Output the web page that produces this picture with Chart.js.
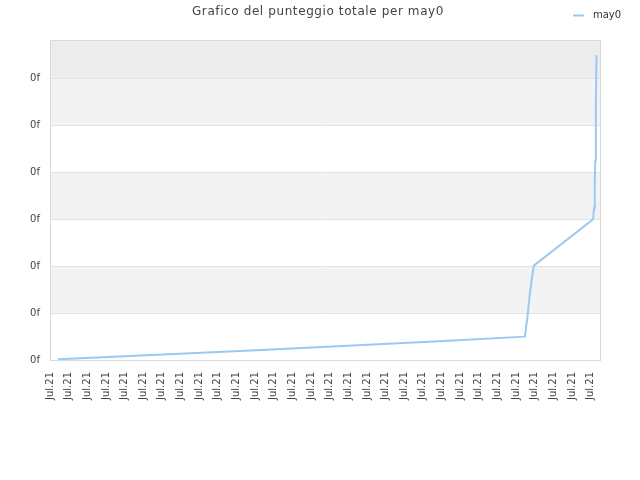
<!DOCTYPE html>
<html><head><meta charset="utf-8">
<script src="https://cdn.jsdelivr.net/npm/chart.js@4.4.0/dist/chart.umd.min.js"></script>
<style>html,body{margin:0;padding:0;background:#fff}#wrap{width:640px;height:480px}</style>
</head><body><div id="wrap"><canvas id="c" width="640" height="480"></canvas></div>
<script>
const titleText = 'Grafico del punteggio totale per may0';
const seriesName = 'may0';
const xTickLabels = ['Jul.21','Jul.21','Jul.21','Jul.21','Jul.21','Jul.21','Jul.21','Jul.21','Jul.21','Jul.21',
  'Jul.21','Jul.21','Jul.21','Jul.21','Jul.21','Jul.21','Jul.21','Jul.21','Jul.21','Jul.21',
  'Jul.21','Jul.21','Jul.21','Jul.21','Jul.21','Jul.21','Jul.21','Jul.21','Jul.21','Jul.21'];
const xTickPositions = [0,10,20,30,40,50,60,70,80,90,100,110,120,130,140,150,160,170,180,190,
  200,210,220,230,240,250,260,270,280,290];
const sampleX = [4.3, 107.8, 205.9, 254.7, 256.1, 257.4, 258.6, 259.5, 291.3, 291.8, 292.2, 292.5, 292.8, 293.1];
const scoreValues = [1.5, 20.3, 39.5, 49.8, 92.5, 143, 178, 201.4, 300.4, 324.6, 378, 427, 551, 651];
const yTickValues = [0, 100, 200, 300, 400, 500, 600];
const yTickLabels = ['0f', '0f', '0f', '0f', '0f', '0f', '0f'];
const bandColors = ['#ffffff', '#f3f3f3', '#ffffff', '#f3f3f3', '#ffffff', '#f3f3f3', '#ededed'];

Chart.defaults.font.family = "'DejaVu Sans', sans-serif";

const decor = {
  id: 'decor',
  beforeDraw(chart) {
    const {ctx, chartArea: a, scales: {y}} = chart;
    const bounds = [...yTickValues, y.max];
    ctx.save();
    for (let i = 0; i < bounds.length - 1; i++) {
      const top = y.getPixelForValue(bounds[i + 1]);
      const bot = y.getPixelForValue(bounds[i]);
      ctx.fillStyle = bandColors[i];
      ctx.fillRect(a.left, top, a.right - a.left, bot - top);
    }
    ctx.restore();
  },
  beforeDatasetsDraw(chart) {
    const {ctx, chartArea: a} = chart;
    ctx.save();
    ctx.strokeStyle = '#d9d9d9';
    ctx.lineWidth = 1;
    ctx.beginPath();
    ctx.moveTo(a.left, a.top + 0.5);
    ctx.lineTo(a.right + 0.5, a.top + 0.5);
    ctx.lineTo(a.right + 0.5, a.bottom);
    ctx.stroke();
    ctx.restore();
  },
  afterDraw(chart) {
    const {ctx} = chart;
    ctx.save();
    ctx.font = "12px 'DejaVu Sans'";
    if ('letterSpacing' in ctx) ctx.letterSpacing = '0.6px';
    ctx.fillStyle = '#444';
    ctx.textAlign = 'center';
    ctx.textBaseline = 'middle';
    ctx.fillText(titleText, 318, 12);
    if ('letterSpacing' in ctx) ctx.letterSpacing = '0px';
    const ds = chart.data.datasets[0];
    ctx.strokeStyle = ds.borderColor;
    ctx.lineWidth = 2;
    ctx.beginPath();
    ctx.moveTo(573, 15.5);
    ctx.lineTo(584, 15.5);
    ctx.stroke();
    ctx.font = "10px 'DejaVu Sans'";
    ctx.fillStyle = '#333';
    ctx.textAlign = 'left';
    ctx.fillText(ds.label, 593, 15);
    ctx.restore();
  }
};

new Chart(document.getElementById('c'), {
  type: 'line',
  data: {
    datasets: [{
      label: seriesName,
      data: sampleX.map((x, i) => ({x, y: scoreValues[i]})),
      borderColor: '#9dc8f2',
      borderWidth: 2,
      pointRadius: 0,
      tension: 0,
      fill: false
    }]
  },
  options: {
    responsive: false,
    animation: false,
    layout: {padding: {top: 40, right: 40, left: 0, bottom: 0}},
    plugins: {legend: {display: false}, title: {display: false}, tooltip: {enabled: false}},
    scales: {
      x: {
        type: 'linear', min: 0, max: 295,
        afterBuildTicks: s => { s.ticks = xTickPositions.map(v => ({value: v})); },
        ticks: {autoSkip: false, maxRotation: 90, minRotation: 90, padding: 12, color: '#444',
          font: {size: 10}, callback: (v, i) => xTickLabels[i]},
        grid: {display: false, drawTicks: false},
        border: {display: true, color: '#d9d9d9'},
        afterFit: s => { s.height = 120; }
      },
      y: {
        min: 0, max: 683,
        afterBuildTicks: s => { s.ticks = yTickValues.map(v => ({value: v})); },
        ticks: {padding: 10, color: '#444', font: {size: 10}, callback: (v, i) => yTickLabels[i]},
        grid: {color: '#e3e3e3', drawTicks: false},
        border: {color: '#d9d9d9'},
        afterFit: s => { s.width = 50; }
      }
    }
  },
  plugins: [decor]
});
</script></body></html>
